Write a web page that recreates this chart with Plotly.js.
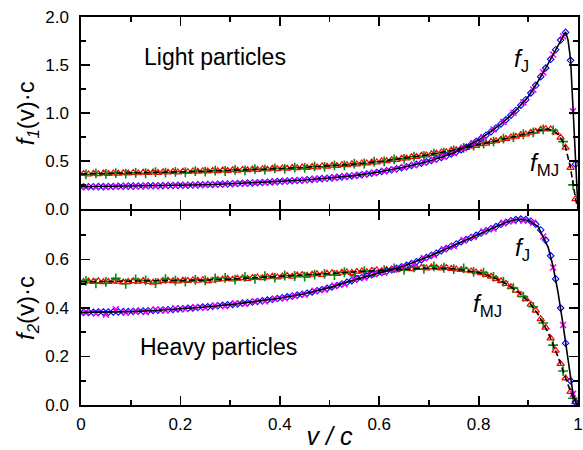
<!DOCTYPE html>
<html>
<head>
<meta charset="utf-8">
<script src="https://cdn.plot.ly/plotly-3.0.1.min.js"></script>
<style>html,body{margin:0;padding:0;background:#fff;}#chart{width:583px;height:450px;}</style>
</head>
<body>
<div id="chart"></div>
<script>
// velocity bin centres (v/c)
const vBin = [0.005,0.015,0.025,0.035,0.045,0.055,0.065,0.075,0.085,0.095,
0.105,0.115,0.125,0.135,0.145,0.155,0.165,0.175,0.185,0.195,
0.205,0.215,0.225,0.235,0.245,0.255,0.265,0.275,0.285,0.295,
0.305,0.315,0.325,0.335,0.345,0.355,0.365,0.375,0.385,0.395,
0.405,0.415,0.425,0.435,0.445,0.455,0.465,0.475,0.485,0.495,
0.505,0.515,0.525,0.535,0.545,0.555,0.565,0.575,0.585,0.595,
0.605,0.615,0.625,0.635,0.645,0.655,0.665,0.675,0.685,0.695,
0.705,0.715,0.725,0.735,0.745,0.755,0.765,0.775,0.785,0.795,
0.805,0.815,0.825,0.835,0.845,0.855,0.865,0.875,0.885,0.895,
0.905,0.915,0.925,0.935,0.945,0.955,0.965,0.975,0.985,0.995];
const vBin2 = [0.01,0.03,0.05,0.07,0.09,0.11,0.13,0.15,0.17,0.19,
0.21,0.23,0.25,0.27,0.29,0.31,0.33,0.35,0.37,0.39,
0.41,0.43,0.45,0.47,0.49,0.51,0.53,0.55,0.57,0.59,
0.61,0.63,0.65,0.67,0.69,0.71,0.73,0.75,0.77,0.79,
0.81,0.83,0.85,0.87,0.89,0.91,0.93,0.95,0.97,0.99];
const vLine = [0,0.05,0.1,0.15,0.2,0.25,0.3,0.35,0.4,0.45,0.5,0.55,0.6,0.65,0.7,0.75,0.8,
0.82,0.84,0.86,0.88,0.9,0.92,0.94,0.95,0.96,0.97,0.975,0.98,0.985,0.99,0.995,1.0];

// Light particles, f_J
const lightJDiamond = [0.235,0.236,0.236,0.237,0.237,0.238,0.239,0.240,0.241,0.242,
0.242,0.243,0.244,0.245,0.245,0.246,0.247,0.248,0.249,0.250,
0.251,0.252,0.253,0.255,0.256,0.258,0.259,0.261,0.263,0.265,
0.267,0.269,0.271,0.273,0.275,0.278,0.280,0.283,0.286,0.289,
0.292,0.295,0.298,0.301,0.304,0.308,0.312,0.316,0.320,0.324,
0.328,0.333,0.338,0.343,0.348,0.354,0.361,0.368,0.376,0.384,
0.393,0.402,0.412,0.422,0.433,0.444,0.456,0.468,0.481,0.494,
0.508,0.523,0.539,0.556,0.575,0.597,0.621,0.647,0.675,0.705,
0.737,0.771,0.808,0.847,0.888,0.932,0.979,1.029,1.083,1.140,
1.210,1.290,1.380,1.470,1.560,1.660,1.760,1.840,1.550,0.470];
const lightJCross = [0.236,0.235,0.238,0.239,0.243,0.241,0.245,0.246,0.249,0.248,
0.252,0.254,0.256,0.261,0.262,0.269,0.271,0.278,0.281,0.288,
0.293,0.300,0.305,0.315,0.321,0.331,0.340,0.352,0.365,0.379,
0.398,0.416,0.440,0.461,0.488,0.515,0.548,0.585,0.636,0.690,
0.752,0.830,0.910,1.005,1.112,1.245,1.425,1.610,1.800,1.020];
const lightJLine = [0.235,0.238,0.242,0.246,0.251,0.257,0.266,0.277,0.291,0.306,0.326,0.351,0.389,0.439,0.501,0.586,0.720,
0.790,0.867,0.955,1.056,1.172,1.335,1.515,1.610,1.710,1.800,1.845,1.760,1.560,1.050,0.480,0.0];

// Light particles, f_MJ
const lightMJTriangle = [0.371,0.366,0.373,0.369,0.375,0.370,0.376,0.373,0.378,0.375,
0.381,0.377,0.383,0.380,0.386,0.382,0.388,0.385,0.391,0.387,
0.394,0.390,0.397,0.393,0.400,0.396,0.403,0.399,0.406,0.402,
0.409,0.405,0.413,0.409,0.417,0.413,0.421,0.416,0.425,0.420,
0.429,0.425,0.434,0.430,0.439,0.434,0.444,0.439,0.450,0.445,
0.456,0.454,0.463,0.462,0.471,0.470,0.480,0.480,0.490,0.491,
0.502,0.503,0.515,0.517,0.529,0.531,0.544,0.547,0.560,0.563,
0.577,0.580,0.595,0.598,0.614,0.618,0.635,0.640,0.657,0.662,
0.679,0.686,0.703,0.710,0.727,0.734,0.751,0.758,0.775,0.782,
0.800,0.810,0.831,0.836,0.834,0.803,0.747,0.643,0.432,0.108];
const lightMJPlus = [0.365,0.374,0.369,0.377,0.371,0.380,0.376,0.388,0.382,0.391,
0.386,0.398,0.393,0.403,0.399,0.411,0.405,0.418,0.413,0.426,
0.421,0.435,0.431,0.447,0.443,0.458,0.458,0.475,0.477,0.496,
0.500,0.520,0.526,0.548,0.555,0.580,0.591,0.613,0.640,0.662,
0.685,0.704,0.735,0.752,0.781,0.800,0.832,0.822,0.705,0.255];
const lightMJLine = [0.368,0.372,0.377,0.383,0.390,0.397,0.405,0.414,0.425,0.437,0.451,0.470,0.496,0.529,0.569,0.616,0.670,
0.694,0.718,0.742,0.766,0.790,0.820,0.836,0.820,0.780,0.700,0.645,0.550,0.430,0.270,0.110,0.0];

// Heavy particles, f_J
const heavyJDiamond = [0.382,0.382,0.382,0.383,0.383,0.383,0.384,0.384,0.385,0.385,
0.386,0.387,0.388,0.389,0.390,0.391,0.392,0.393,0.394,0.396,
0.397,0.399,0.400,0.402,0.404,0.405,0.407,0.409,0.411,0.413,
0.415,0.417,0.420,0.422,0.425,0.427,0.430,0.433,0.436,0.439,
0.442,0.446,0.449,0.453,0.457,0.461,0.466,0.471,0.476,0.481,
0.487,0.493,0.499,0.506,0.513,0.520,0.526,0.532,0.537,0.542,
0.547,0.552,0.558,0.564,0.570,0.576,0.583,0.591,0.599,0.608,
0.617,0.626,0.636,0.645,0.655,0.664,0.673,0.682,0.691,0.700,
0.709,0.718,0.727,0.736,0.745,0.753,0.760,0.765,0.767,0.765,
0.758,0.745,0.722,0.680,0.615,0.520,0.400,0.255,0.100,0.012];
const heavyJCross = [0.384,0.378,0.372,0.395,0.381,0.386,0.383,0.394,0.390,0.399,
0.396,0.403,0.401,0.410,0.408,0.419,0.417,0.428,0.427,0.438,
0.441,0.450,0.455,0.471,0.476,0.492,0.498,0.518,0.525,0.541,
0.546,0.559,0.572,0.584,0.606,0.618,0.643,0.655,0.680,0.693,
0.716,0.727,0.751,0.758,0.760,0.752,0.695,0.567,0.330,0.046];
const heavyJLine = [0.382,0.383,0.385,0.390,0.396,0.404,0.414,0.426,0.440,0.459,0.484,0.516,0.544,0.573,0.612,0.659,0.704,
0.722,0.740,0.757,0.766,0.762,0.735,0.650,0.570,0.462,0.330,0.255,0.175,0.100,0.045,0.012,0.0];

// Heavy particles, f_MJ
const heavyMJTriangle = [0.508,0.510,0.509,0.511,0.507,0.508,0.510,0.509,0.506,0.508,
0.511,0.509,0.512,0.508,0.505,0.507,0.512,0.513,0.511,0.510,
0.514,0.512,0.515,0.513,0.516,0.511,0.514,0.517,0.519,0.521,
0.518,0.522,0.524,0.521,0.525,0.527,0.524,0.528,0.530,0.527,
0.531,0.533,0.530,0.535,0.537,0.534,0.538,0.540,0.537,0.542,
0.544,0.541,0.546,0.548,0.545,0.550,0.552,0.549,0.554,0.556,
0.553,0.558,0.560,0.557,0.562,0.564,0.561,0.566,0.567,0.564,
0.568,0.566,0.564,0.566,0.562,0.560,0.558,0.556,0.552,0.548,
0.544,0.537,0.530,0.521,0.511,0.500,0.487,0.472,0.455,0.437,
0.415,0.390,0.355,0.320,0.275,0.225,0.170,0.110,0.055,0.012];
const heavyMJPlus = [0.512,0.502,0.508,0.522,0.500,0.518,0.514,0.503,0.519,0.513,
0.509,0.516,0.514,0.522,0.524,0.517,0.528,0.520,0.531,0.525,
0.534,0.532,0.529,0.538,0.541,0.536,0.548,0.533,0.552,0.547,
0.556,0.563,0.557,0.568,0.561,0.572,0.566,0.560,0.563,0.549,
0.546,0.528,0.509,0.482,0.447,0.405,0.338,0.247,0.140,0.028];
const heavyMJLine = [0.508,0.509,0.510,0.511,0.513,0.515,0.519,0.524,0.530,0.536,0.542,0.549,0.555,0.561,0.565,0.562,0.546,
0.534,0.517,0.495,0.465,0.428,0.373,0.298,0.250,0.198,0.140,0.110,0.083,0.055,0.030,0.012,0.0];

// tick positions and labels
const xMajor = [0, 0.2, 0.4, 0.6, 0.8, 1];
const xMajorText = ['0', '0.2', '0.4', '0.6', '0.8', '1'];
const y1Major = [0, 0.5, 1.0, 1.5, 2.0];
const y1MajorText = ['0.0', '0.5', '1.0', '1.5', '2.0'];
const y2Major = [0, 0.2, 0.4, 0.6, 0.8];
const y2MajorText = ['0.0', '0.2', '0.4', '0.6', ''];
const y1Range = [0, 2];
const y2Range = [0, 0.8];

const FONT = 'Liberation Sans, Arial, Helvetica, sans-serif';
const BLUE = '#0000ff', MAG = '#ff00ff', RED = '#ff0000', GREEN = '#0a8a0a';

const W = 583, H = 450, M = {l: 81, r: 5, t: 17, b: 45};
const LW = 1.6;
const plotH = H - M.t - M.b;
const GAP = LW / plotH;

function mk(x, y, ya, sym, col, size, lw) {
  return {x: x, y: y, yaxis: ya, xaxis: ya === 'y2' ? 'x2' : 'x', type: 'scatter', mode: 'markers',
    marker: {symbol: sym, color: col, size: size, line: {color: col, width: lw}}, hoverinfo: 'skip', showlegend: false};
}
function ln(x, y, ya, dash) {
  return {x: x, y: y, yaxis: ya, xaxis: ya === 'y2' ? 'x2' : 'x', type: 'scatter', mode: 'lines',
    line: {color: '#000', width: 1.6, dash: dash}, hoverinfo: 'skip', showlegend: false};
}

const data = [
  mk(vBin, lightMJTriangle, 'y2', 'triangle-up-open', RED, 6.5, 1.2),
  mk(vBin2, lightMJPlus, 'y2', 'cross-thin-open', GREEN, 7, 1.6),
  mk(vBin, lightJDiamond, 'y2', 'diamond-open', BLUE, 5, 1.1),
  mk(vBin2, lightJCross, 'y2', 'x-thin-open', MAG, 6, 1.6),
  ln(vLine, lightJLine, 'y2', 'solid'),
  ln(vLine, lightMJLine, 'y2', '6px,3px'),
  mk(vBin, heavyMJTriangle, 'y', 'triangle-up-open', RED, 6.5, 1.2),
  mk(vBin2, heavyMJPlus, 'y', 'cross-thin-open', GREEN, 7, 1.6),
  mk(vBin, heavyJDiamond, 'y', 'diamond-open', BLUE, 5, 1.1),
  mk(vBin2, heavyJCross, 'y', 'x-thin-open', MAG, 6, 1.6),
  ln(vLine, heavyJLine, 'y', 'solid'),
  ln(vLine, heavyMJLine, 'y', '6px,3px')
];

function minorTicks(dt) {
  return {dtick: dt, tick0: 0, ticks: 'inside', ticklen: 5, tickwidth: 1.8, tickcolor: '#000', showgrid: false};
}
const axisCommon = {
  showline: true, linecolor: '#000', linewidth: LW, mirror: 'allticks',
  ticks: 'inside', ticklen: 9, tickwidth: 1.8, tickcolor: '#000',
  showgrid: false, zeroline: false, tickmode: 'array',
  tickfont: {family: FONT, size: 17, color: '#000'}
};

const layout = {
  width: W, height: H,
  margin: M,
  paper_bgcolor: '#fff', plot_bgcolor: 'rgba(0,0,0,0)',
  font: {family: FONT, color: '#000'},
  showlegend: false,
  xaxis: Object.assign({}, axisCommon, {
    domain: [0, 1], anchor: 'y', range: [0, 1],
    tickvals: xMajor, ticktext: xMajorText, ticklabelstandoff: 3, minor: minorTicks(0.1),
    title: {text: '<i>v / c</i>', font: {family: FONT, size: 25, color: '#000'}, standoff: 2}
  }),
  xaxis2: Object.assign({}, axisCommon, {
    domain: [0, 1], anchor: 'y2', matches: 'x', range: [0, 1],
    tickvals: xMajor, showticklabels: false, minor: minorTicks(0.1)
  }),
  yaxis: Object.assign({}, axisCommon, {
    domain: [0, 0.5], anchor: 'x', range: y2Range,
    tickvals: y2Major, ticktext: y2MajorText, minor: minorTicks(0.1),
    ticklabelstandoff: 7,
    title: {text: '<i>f</i><sub><i>2</i></sub>(v)·c', font: {family: FONT, size: 24, color: '#000'}, standoff: 4}
  }),
  yaxis2: Object.assign({}, axisCommon, {
    domain: [0.5 + GAP, 1], anchor: 'x2', range: y1Range,
    tickvals: y1Major, ticktext: y1MajorText, minor: minorTicks(0.25),
    ticklabelstandoff: 7,
    title: {text: '<i>f</i><sub><i>1</i></sub>(v)·c', font: {family: FONT, size: 24, color: '#000'}, standoff: 4}
  }),
  annotations: [
    {xref: 'x2', yref: 'y2', x: 0.123, y: 1.58, xanchor: 'left', yanchor: 'middle', showarrow: false,
     text: 'Light particles', font: {family: FONT, size: 23, color: '#000'}},
    {xref: 'x', yref: 'y', x: 0.115, y: 0.24, xanchor: 'left', yanchor: 'middle', showarrow: false,
     text: 'Heavy particles', font: {family: FONT, size: 23, color: '#000'}},
    {xref: 'x2', yref: 'y2', x: 0.868, y: 1.55, xanchor: 'left', yanchor: 'middle', showarrow: false,
     text: '<i>f</i><sub>J</sub>', font: {family: FONT, size: 24, color: '#000'}},
    {xref: 'x2', yref: 'y2', x: 0.9, y: 0.47, xanchor: 'left', yanchor: 'middle', showarrow: false,
     text: '<i>f</i><sub>MJ</sub>', font: {family: FONT, size: 24, color: '#000'}},
    {xref: 'x', yref: 'y', x: 0.870, y: 0.64, xanchor: 'left', yanchor: 'middle', showarrow: false,
     text: '<i>f</i><sub>J</sub>', font: {family: FONT, size: 24, color: '#000'}},
    {xref: 'x', yref: 'y', x: 0.785, y: 0.41, xanchor: 'left', yanchor: 'middle', showarrow: false,
     text: '<i>f</i><sub>MJ</sub>', font: {family: FONT, size: 24, color: '#000'}}
  ]
};

Plotly.newPlot('chart', data, layout, {displayModeBar: false, staticPlot: true});
</script>
</body>
</html>
